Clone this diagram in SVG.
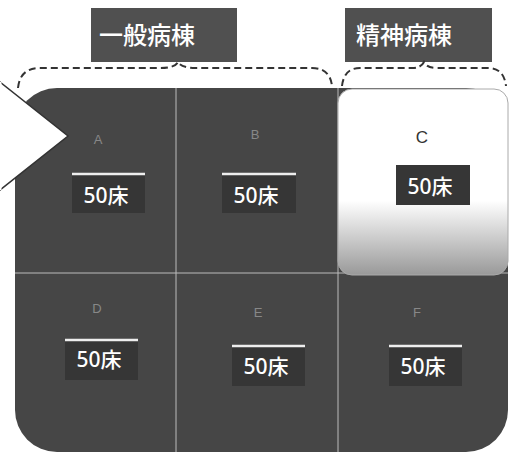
<svg xmlns="http://www.w3.org/2000/svg" width="511" height="462" viewBox="0 0 511 462">
<defs>
<style>
.title{fill:#505050;}
.ttext{font-family:"Noto Sans CJK JP","Noto Sans CJK SC",sans-serif;font-size:24px;font-weight:500;fill:#fff;text-anchor:middle;}
.bed{fill:#363636;}
.bline{stroke:#eee;stroke-width:2.5;}
.btext{font-family:"Noto Sans","Noto Sans CJK JP",sans-serif;font-size:21px;font-weight:500;fill:#fff;text-anchor:middle;}
.lbl{font-family:"Liberation Sans",sans-serif;font-size:13px;fill:#888;text-anchor:middle;}
.brace{fill:none;stroke:#333;stroke-width:2;stroke-dasharray:7,4;}
.grid{stroke:#bbb;stroke-width:1;}
</style>
<linearGradient id="cg" x1="0" y1="0" x2="0" y2="1">
<stop offset="0" stop-color="#fff"/>
<stop offset="0.6" stop-color="#fff"/>
<stop offset="1" stop-color="#999"/>
</linearGradient>
</defs>
<rect width="511" height="462" fill="#fff"/>
<g id="titles">
<g id="title-general"><rect class="title" x="91" y="8" width="146" height="54"/><text class="ttext" x="147" y="44">一般病棟</text></g>
<g id="title-psych"><rect class="title" x="345" y="8" width="147" height="54"/><text class="ttext" x="404" y="44">精神病棟</text></g>
</g>
<g id="braces">
<path class="brace" d="M18,88 Q20,68 40,68 L160,68 Q175,68 178,62 Q181,68 196,68 L312,68 Q330,68 332,86"/>
<path class="brace" d="M342,86 Q344,68 360,68 L412,68 Q421,68 424,62 Q427,68 436,68 L488,68 Q504,68 506,86"/>
</g>
<g id="floor">
<rect x="15" y="88" width="493" height="364" rx="42" fill="#464646"/>
<line class="grid" x1="176" y1="88" x2="176" y2="452"/>
<line class="grid" x1="338" y1="88" x2="338" y2="452"/>
<line class="grid" x1="15" y1="273" x2="508" y2="273"/>
<polygon points="0,82 68,136 0,190" fill="#fff" stroke="#333" stroke-width="1.5"/>
<line x1="0" y1="82" x2="0" y2="190" stroke="#fff" stroke-width="3"/>
</g>
<g id="ward-A"><text class="lbl" x="98" y="144">A</text><rect class="bed" x="72" y="173" width="73" height="40"/><line class="bline" x1="72" y1="174" x2="145" y2="174"/><text class="btext" x="106" y="203">50床</text></g>
<g id="ward-B"><text class="lbl" x="255" y="139">B</text><rect class="bed" x="222" y="173" width="74" height="40"/><line class="bline" x1="222" y1="174" x2="296" y2="174"/><text class="btext" x="256" y="203">50床</text></g>
<g id="ward-C"><rect x="338" y="89" width="170" height="186" rx="14" fill="url(#cg)" stroke="#aaa" stroke-width="1"/><text class="lbl" x="422" y="143" style="fill:#333;font-size:17px">C</text><rect class="bed" x="396" y="165" width="74" height="40"/><text class="btext" x="430" y="194">50床</text></g>
<g id="ward-D"><text class="lbl" x="97" y="313">D</text><rect class="bed" x="65" y="339" width="73" height="41"/><line class="bline" x1="65" y1="340" x2="138" y2="340"/><text class="btext" x="99" y="367">50床</text></g>
<g id="ward-E"><text class="lbl" x="258" y="317">E</text><rect class="bed" x="232" y="345" width="73" height="41"/><line class="bline" x1="232" y1="346" x2="305" y2="346"/><text class="btext" x="266" y="374">50床</text></g>
<g id="ward-F"><text class="lbl" x="417" y="317">F</text><rect class="bed" x="389" y="345" width="73" height="41"/><line class="bline" x1="389" y1="346" x2="462" y2="346"/><text class="btext" x="423" y="374">50床</text></g>
</svg>
